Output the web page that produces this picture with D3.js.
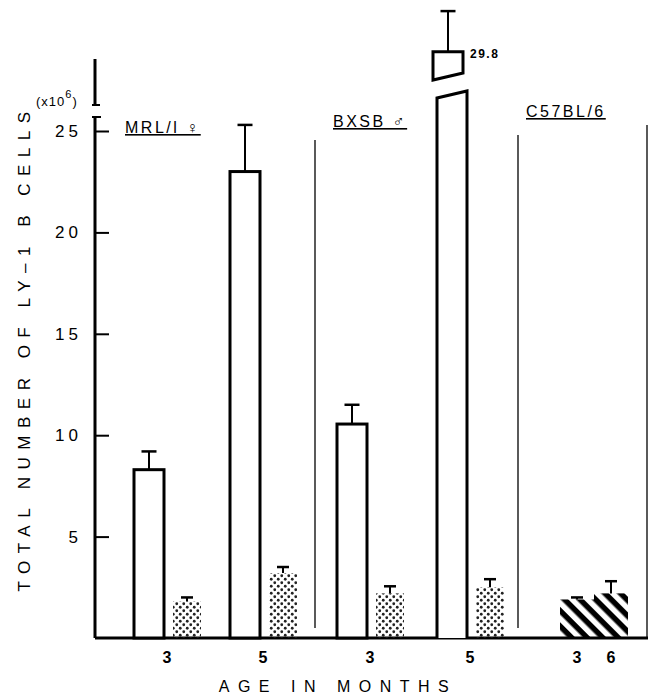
<!DOCTYPE html>
<html>
<head>
<meta charset="utf-8">
<script src="https://cdn.jsdelivr.net/npm/d3@7"></script>
<style>
  body { margin: 0; background: #fff; overflow: hidden; }
  svg { display: block; font-family: "Liberation Sans", Arial, sans-serif; }
</style>
</head>
<body>
<svg id="chart" width="654" height="700"></svg>
<script>
// bar data (values in 10^6 cells)
const strains = ["MRL/l ♀", "BXSB ♂", "C57BL/6"];
const ages = ["3", "5", "3", "5", "3", "6"];
const ly1Total = [8.3, 23.0, 10.55, 29.8, null, null];   // open bars
const ly1TotalErr = [9.2, 25.3, 11.5, 31.8, null, null];
const ly1Other = [1.8, 3.2, 2.2, 2.5, 1.9, 2.2];         // stippled / hatched bars
const ly1OtherErr = [2.0, 3.5, 2.55, 2.9, 2.0, 2.8];
const yTicks = [5, 10, 15, 20, 25];

const svg = d3.select("#chart");
const axisX = 95, baseY = 638;

// main y scale and the upper piece above the axis break
const y = d3.scaleLinear().domain([0, 25]).range([baseY, 131]);
const yHigh = v => y(v) + 18;

// centre of each age group
const groupX = [167, 263, 370, 470, 577, 611];
const barW = 30;

// patterns
const defs = svg.append("defs");
const dots = defs.append("pattern").attr("id", "dots")
  .attr("width", 7).attr("height", 7).attr("patternUnits", "userSpaceOnUse");
dots.append("circle").attr("cx", 1.75).attr("cy", 1.75).attr("r", 1.4).attr("fill", "#222");
dots.append("circle").attr("cx", 5.25).attr("cy", 5.25).attr("r", 1.4).attr("fill", "#222");

const hatch = defs.append("pattern").attr("id", "hatch")
  .attr("width", 11).attr("height", 11).attr("patternUnits", "userSpaceOnUse")
  .attr("patternTransform", "rotate(45)");
hatch.append("rect").attr("x", 0).attr("y", 0).attr("width", 11).attr("height", 5.5).attr("fill", "#000");

// y axis (with break)
svg.append("line").attr("x1", axisX).attr("x2", axisX).attr("y1", 59).attr("y2", 105)
  .attr("stroke", "#000").attr("stroke-width", 3);
svg.append("line").attr("x1", axisX - 3).attr("x2", axisX + 5).attr("y1", 105).attr("y2", 105)
  .attr("stroke", "#000").attr("stroke-width", 2);
svg.append("line").attr("x1", axisX).attr("x2", axisX).attr("y1", 117).attr("y2", baseY)
  .attr("stroke", "#000").attr("stroke-width", 3);
svg.append("line").attr("x1", axisX - 3).attr("x2", axisX + 6).attr("y1", 117).attr("y2", 117)
  .attr("stroke", "#000").attr("stroke-width", 2);

const yAxis = d3.axisRight(y).tickValues(yTicks).tickSize(14).tickFormat(d => d);
const gy = svg.append("g").attr("transform", `translate(${axisX},0)`).call(yAxis);
gy.select(".domain").remove();
gy.selectAll(".tick line").attr("stroke", "#000").attr("stroke-width", 2);
gy.selectAll(".tick text")
  .attr("x", -13).attr("text-anchor", "end")
  .attr("font-size", 17).attr("letter-spacing", 4).attr("fill", "#000");

const unit = svg.append("text").attr("x", 36).attr("y", 106).attr("font-size", 13).attr("letter-spacing", 1);
unit.append("tspan").text("(x10");
unit.append("tspan").attr("dy", -8).attr("font-size", 11).text("6");
unit.append("tspan").attr("dy", 8).text(")");

// baseline
svg.append("line").attr("x1", axisX).attr("x2", 648).attr("y1", baseY).attr("y2", baseY)
  .attr("stroke", "#000").attr("stroke-width", 3);

// group separators
[[315, 140, 628], [518, 135, 628], [647, 125, baseY]].forEach(([sx, y1, y2]) => {
  svg.append("line").attr("x1", sx).attr("x2", sx).attr("y1", y1).attr("y2", y2)
    .attr("stroke", "#000").attr("stroke-width", 1.3);
});

// strain labels
const labelPos = [[125, 133], [333, 127], [526, 117]];
strains.forEach((s, i) => {
  svg.append("text").attr("x", labelPos[i][0]).attr("y", labelPos[i][1])
    .attr("font-size", 16).attr("letter-spacing", 2.5).attr("text-decoration", "underline")
    .text(s);
});

function errorBar(cx, yTop, yFrom, cap) {
  svg.append("line").attr("x1", cx).attr("x2", cx).attr("y1", yFrom).attr("y2", yTop)
    .attr("stroke", "#000").attr("stroke-width", 2);
  svg.append("line").attr("x1", cx - cap / 2).attr("x2", cx + cap / 2).attr("y1", yTop).attr("y2", yTop)
    .attr("stroke", "#000").attr("stroke-width", 2.5);
}

// bars
ages.forEach((a, i) => {
  const c = groupX[i];
  if (ly1Total[i] !== null) {
    const x0 = c - barW - 3, v = ly1Total[i];
    if (v > 25) {
      // broken bar: lower piece up to the break, upper piece on the high scale
      const lowTop = 95;
      svg.append("path")
        .attr("d", `M${x0},${baseY} L${x0},${lowTop + 3} L${x0 + barW},${lowTop - 4} L${x0 + barW},${baseY}`)
        .attr("fill", "#fff").attr("stroke", "#000").attr("stroke-width", 3);
      const upBot = 77, upTop = yHigh(v);
      svg.append("path")
        .attr("d", `M${x0 - 4},${upBot + 3} L${x0 - 4},${upTop} L${x0 + barW - 4},${upTop} L${x0 + barW - 4},${upBot - 4} Z`)
        .attr("fill", "#fff").attr("stroke", "#000").attr("stroke-width", 3);
      errorBar(x0 + barW / 2 - 4, yHigh(ly1TotalErr[i]), upTop, 15);
      svg.append("text").attr("x", 470).attr("y", 58).attr("font-size", 12).attr("font-weight", "bold")
        .attr("letter-spacing", 1.5).text(v.toFixed(1));
    } else {
      errorBar(x0 + barW / 2, y(ly1TotalErr[i]), y(v), 15);
      svg.append("rect").attr("x", x0).attr("y", y(v)).attr("width", barW).attr("height", baseY - y(v))
        .attr("fill", "#fff").attr("stroke", "#000").attr("stroke-width", 3);
    }
    const sx = c + 6, sv = ly1Other[i];
    errorBar(sx + 14, y(ly1OtherErr[i]), y(sv), 12);
    svg.append("rect").attr("x", sx).attr("y", y(sv)).attr("width", 28).attr("height", baseY - y(sv))
      .attr("fill", "url(#dots)");
  } else {
    const hx = c - 17, hv = ly1Other[i];
    errorBar(hx + 17, y(ly1OtherErr[i]), y(hv), 12);
    svg.append("rect").attr("x", hx).attr("y", y(hv)).attr("width", 34).attr("height", baseY - y(hv))
      .attr("fill", "url(#hatch)");
  }
  svg.append("text").attr("x", c).attr("y", 663).attr("text-anchor", "middle")
    .attr("font-size", 16).attr("font-weight", "bold").text(a);
});

// axis titles
svg.append("text").attr("x", 338).attr("y", 692).attr("text-anchor", "middle")
  .attr("font-size", 16).attr("letter-spacing", 8.5).text("AGE IN MONTHS");
svg.append("text").attr("transform", "translate(30,348) rotate(-90)").attr("text-anchor", "middle")
  .attr("font-size", 17).attr("letter-spacing", 7.5).text("TOTAL NUMBER OF LY–1 B CELLS");
</script>
</body>
</html>
